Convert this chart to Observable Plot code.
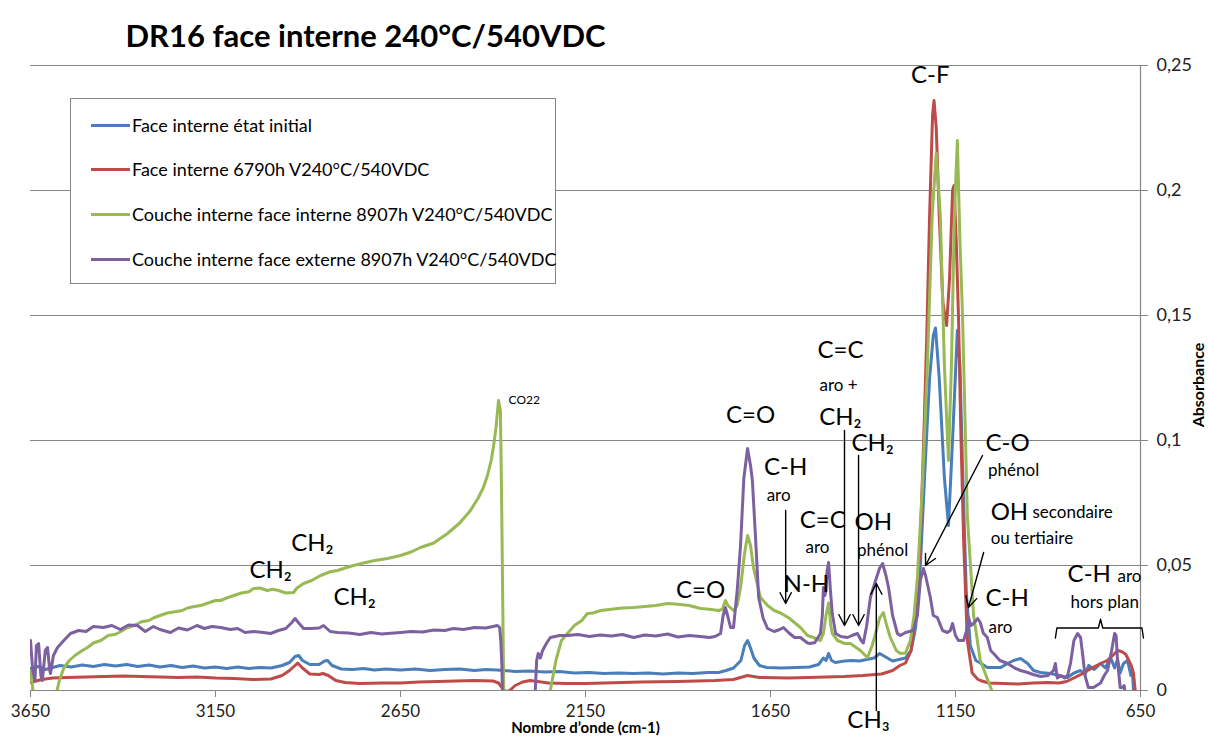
<!DOCTYPE html>
<html><head><meta charset="utf-8">
<script src="https://cdn.jsdelivr.net/npm/d3@7"></script>
<script src="https://cdn.jsdelivr.net/npm/@observablehq/plot@0.6"></script>
<style>
body{margin:0;background:#fff;}
#wrap{position:relative;width:1208px;height:738px;font-family:Lato,"Noto Sans",sans-serif;}
#legend{position:absolute;left:70px;top:98px;width:486px;height:186px;border:1px solid #868686;background:#fff;box-sizing:border-box;}
.item{position:absolute;left:20px;font-size:18px;color:#000;display:flex;align-items:center;height:22px;white-space:nowrap;}
.sw{width:39px;height:3px;margin-right:2px;}
</style></head><body><div id="wrap"><div id="chart"></div><div id="legend"></div></div>
<script>
// ---- data: [wavenumber cm-1, absorbance] ----
const initial = [[3650,0.0088],[3630,0.0096],[3610,0.0084],[3590,0.0092],[3570,0.0100],[3540,0.0094],[3510,0.0102],[3480,0.0096],[3450,0.0104],[3420,0.0098],[3390,0.0104],[3360,0.0096],[3330,0.0102],[3300,0.0094],[3270,0.0100],[3240,0.0092],[3210,0.0098],[3180,0.0090],[3150,0.0094],[3120,0.0088],[3090,0.0094],[3060,0.0088],[3030,0.0092],[3000,0.0090],[2970,0.0100],[2950,0.0112],[2935,0.0136],[2925,0.0140],[2915,0.0120],[2895,0.0104],[2870,0.0104],[2855,0.0118],[2847,0.0120],[2835,0.0100],[2810,0.0086],[2780,0.0084],[2750,0.0088],[2720,0.0082],[2690,0.0086],[2650,0.0082],[2610,0.0086],[2570,0.0080],[2530,0.0084],[2490,0.0086],[2450,0.0080],[2420,0.0084],[2390,0.0082],[2370,0.0080],[2340,0.0076],[2300,0.0078],[2260,0.0074],[2220,0.0076],[2180,0.0070],[2140,0.0072],[2100,0.0068],[2060,0.0070],[2020,0.0068],[1980,0.0070],[1940,0.0066],[1900,0.0070],[1860,0.0068],[1820,0.0072],[1790,0.0072],[1770,0.0080],[1750,0.0090],[1730,0.0120],[1720,0.0180],[1712,0.0200],[1704,0.0170],[1695,0.0130],[1680,0.0100],[1660,0.0092],[1620,0.0090],[1580,0.0092],[1545,0.0094],[1520,0.0104],[1507,0.0130],[1500,0.0120],[1493,0.0148],[1485,0.0120],[1475,0.0112],[1450,0.0118],[1430,0.0120],[1410,0.0118],[1390,0.0124],[1370,0.0130],[1355,0.0148],[1340,0.0135],[1320,0.0118],[1300,0.0125],[1285,0.0130],[1270,0.0160],[1258,0.0250],[1245,0.0500],[1232,0.0900],[1220,0.1250],[1210,0.1420],[1204,0.1450],[1194,0.1250],[1180,0.0850],[1169,0.0660],[1158,0.1000],[1145,0.1440],[1138,0.1300],[1131,0.0900],[1121,0.0400],[1110,0.0180],[1095,0.0120],[1083,0.0110],[1064,0.0092],[1047,0.0092],[1028,0.0092],[1009,0.0108],[993,0.0120],[974,0.0128],[955,0.0108],[939,0.0080],[920,0.0072],[893,0.0068],[870,0.0060],[847,0.0052],[830,0.0070],[812,0.0080],[800,0.0064],[790,0.0100],[775,0.0084],[758,0.0108],[745,0.0090],[731,0.0132],[720,0.0090],[712,0.0124],[705,0.0070],[696,0.0108],[685,0.0120],[676,0.0060],[672,0.0080],[669,0.0000]];

const aged6790 = [[3650,0.0032],[3620,0.0044],[3590,0.0050],[3550,0.0052],[3500,0.0054],[3450,0.0056],[3400,0.0058],[3350,0.0056],[3300,0.0054],[3250,0.0052],[3200,0.0054],[3150,0.0050],[3100,0.0048],[3050,0.0044],[3000,0.0046],[2970,0.0060],[2950,0.0080],[2935,0.0100],[2928,0.0110],[2915,0.0090],[2895,0.0066],[2870,0.0064],[2860,0.0068],[2845,0.0060],[2825,0.0040],[2800,0.0032],[2760,0.0028],[2700,0.0030],[2650,0.0030],[2600,0.0034],[2550,0.0036],[2500,0.0038],[2450,0.0040],[2400,0.0038],[2385,0.0030],[2375,0.0010],[2365,-0.0005],[2355,0.0000],[2340,0.0020],[2320,0.0034],[2300,0.0040],[2280,0.0036],[2250,0.0030],[2200,0.0028],[2150,0.0028],[2100,0.0030],[2000,0.0034],[1900,0.0036],[1800,0.0040],[1750,0.0044],[1712,0.0060],[1680,0.0052],[1600,0.0050],[1500,0.0054],[1450,0.0056],[1400,0.0060],[1350,0.0066],[1320,0.0080],[1300,0.0100],[1285,0.0110],[1270,0.0160],[1258,0.0300],[1245,0.0600],[1236,0.1000],[1228,0.1400],[1220,0.1900],[1212,0.2300],[1208,0.2360],[1202,0.2250],[1194,0.1900],[1184,0.1550],[1174,0.1460],[1166,0.1650],[1158,0.2000],[1154,0.2020],[1148,0.1800],[1142,0.1500],[1135,0.1000],[1128,0.0600],[1118,0.0200],[1105,0.0070],[1090,0.0045],[1083,0.0040],[1060,0.0030],[1020,0.0028],[980,0.0026],[940,0.0030],[900,0.0032],[870,0.0030],[850,0.0036],[830,0.0050],[810,0.0065],[793,0.0080],[775,0.0095],[758,0.0108],[740,0.0120],[725,0.0140],[712,0.0160],[700,0.0155],[690,0.0145],[685,0.0130],[675,0.0100],[669,0.0070],[665,0.0010],[662,-0.0030]];

const layerInner = [[3650,0.0080],[3645,0.0020],[3640,-0.0040],[3590,-0.0040],[3580,-0.0010],[3572,0.0040],[3560,0.0090],[3545,0.0120],[3530,0.0140],[3510,0.0160],[3496,0.0172],[3480,0.0190],[3460,0.0200],[3440,0.0220],[3420,0.0225],[3407,0.0235],[3390,0.0250],[3370,0.0260],[3350,0.0275],[3330,0.0280],[3318,0.0290],[3300,0.0300],[3280,0.0310],[3260,0.0315],[3240,0.0320],[3226,0.0330],[3210,0.0335],[3190,0.0340],[3170,0.0350],[3150,0.0360],[3136,0.0360],[3120,0.0370],[3100,0.0380],[3080,0.0390],[3060,0.0395],[3047,0.0408],[3030,0.0410],[3010,0.0400],[2995,0.0405],[2980,0.0400],[2960,0.0390],[2939,0.0392],[2930,0.0410],[2912,0.0428],[2890,0.0440],[2866,0.0460],[2840,0.0475],[2820,0.0480],[2800,0.0490],[2777,0.0500],[2750,0.0510],[2720,0.0520],[2685,0.0528],[2650,0.0540],[2620,0.0555],[2596,0.0572],[2560,0.0590],[2523,0.0628],[2490,0.0670],[2461,0.0720],[2440,0.0770],[2426,0.0812],[2415,0.0860],[2405,0.0920],[2399,0.0972],[2392,0.1050],[2385,0.1160],[2380,0.1120],[2377,0.0800],[2374,0.0400],[2371,0.0000],[2368,-0.0100],[2250,-0.0100],[2245,0.0000],[2230,0.0120],[2215,0.0200],[2199,0.0228],[2180,0.0260],[2160,0.0280],[2145,0.0308],[2130,0.0310],[2109,0.0320],[2080,0.0325],[2050,0.0330],[2020,0.0332],[1990,0.0336],[1960,0.0340],[1928,0.0348],[1900,0.0345],[1870,0.0340],[1839,0.0328],[1815,0.0325],[1790,0.0320],[1780,0.0325],[1772,0.0360],[1765,0.0340],[1750,0.0320],[1740,0.0340],[1731,0.0412],[1720,0.0550],[1712,0.0620],[1704,0.0580],[1696,0.0492],[1685,0.0420],[1677,0.0372],[1658,0.0340],[1640,0.0320],[1623,0.0310],[1600,0.0290],[1569,0.0252],[1550,0.0220],[1534,0.0212],[1515,0.0200],[1507,0.0228],[1500,0.0300],[1493,0.0350],[1487,0.0260],[1483,0.0228],[1469,0.0200],[1450,0.0188],[1434,0.0188],[1407,0.0160],[1388,0.0132],[1375,0.0180],[1366,0.0228],[1355,0.0290],[1345,0.0312],[1336,0.0260],[1326,0.0212],[1310,0.0160],[1299,0.0148],[1285,0.0150],[1272,0.0200],[1262,0.0300],[1253,0.0450],[1240,0.0800],[1226,0.1300],[1213,0.1900],[1202,0.2150],[1191,0.1900],[1180,0.1300],[1169,0.0920],[1161,0.1300],[1153,0.1900],[1145,0.2200],[1138,0.1800],[1131,0.1500],[1118,0.0700],[1101,0.0300],[1083,0.0120],[1055,0.0012],[1042,-0.0040],[1030,-0.0080]];

const layerOuter = [[3650,0.0200],[3644,0.0080],[3638,0.0040],[3634,0.0180],[3628,0.0188],[3622,0.0060],[3618,0.0040],[3610,0.0160],[3604,0.0172],[3598,0.0080],[3596,0.0068],[3588,0.0140],[3577,0.0172],[3560,0.0200],[3542,0.0228],[3520,0.0240],[3500,0.0236],[3480,0.0256],[3453,0.0252],[3430,0.0260],[3407,0.0244],[3385,0.0262],[3361,0.0260],[3340,0.0236],[3318,0.0256],[3300,0.0244],[3272,0.0232],[3250,0.0250],[3226,0.0242],[3200,0.0260],[3180,0.0248],[3160,0.0256],[3136,0.0252],[3110,0.0244],[3090,0.0248],[3070,0.0232],[3047,0.0236],[3020,0.0232],[3001,0.0228],[2980,0.0240],[2960,0.0248],[2945,0.0270],[2935,0.0288],[2925,0.0270],[2912,0.0248],[2893,0.0248],[2870,0.0250],[2858,0.0260],[2840,0.0236],[2820,0.0232],[2790,0.0230],[2760,0.0224],[2730,0.0232],[2700,0.0226],[2685,0.0228],[2650,0.0232],[2620,0.0236],[2590,0.0234],[2560,0.0242],[2530,0.0240],[2507,0.0248],[2480,0.0244],[2450,0.0252],[2420,0.0250],[2400,0.0256],[2388,0.0260],[2382,0.0252],[2379,0.0200],[2376,0.0100],[2374,-0.0040],[2290,-0.0040],[2287,-0.0040],[2282,0.0120],[2278,0.0148],[2272,0.0130],[2266,0.0160],[2255,0.0190],[2245,0.0212],[2220,0.0220],[2199,0.0220],[2170,0.0224],[2140,0.0216],[2110,0.0222],[2080,0.0218],[2050,0.0224],[2020,0.0212],[1990,0.0222],[1960,0.0218],[1928,0.0226],[1900,0.0214],[1870,0.0220],[1839,0.0216],[1815,0.0212],[1800,0.0216],[1785,0.0228],[1778,0.0300],[1772,0.0332],[1766,0.0300],[1758,0.0252],[1750,0.0252],[1740,0.0400],[1731,0.0580],[1722,0.0850],[1712,0.0968],[1704,0.0900],[1699,0.0840],[1690,0.0600],[1682,0.0372],[1670,0.0290],[1658,0.0248],[1640,0.0236],[1625,0.0244],[1615,0.0252],[1600,0.0230],[1585,0.0212],[1569,0.0212],[1550,0.0190],[1542,0.0188],[1530,0.0192],[1515,0.0228],[1510,0.0300],[1507,0.0412],[1503,0.0380],[1500,0.0400],[1497,0.0480],[1493,0.0512],[1488,0.0400],[1483,0.0308],[1474,0.0228],[1460,0.0216],[1442,0.0212],[1430,0.0220],[1415,0.0228],[1405,0.0200],[1399,0.0190],[1390,0.0260],[1380,0.0372],[1366,0.0440],[1355,0.0490],[1347,0.0508],[1338,0.0460],[1331,0.0412],[1320,0.0300],[1307,0.0228],[1299,0.0220],[1285,0.0232],[1264,0.0240],[1253,0.0300],[1245,0.0440],[1237,0.0488],[1231,0.0460],[1218,0.0372],[1210,0.0300],[1199,0.0292],[1185,0.0240],[1172,0.0232],[1164,0.0240],[1158,0.0268],[1150,0.0220],[1142,0.0200],[1128,0.0200],[1120,0.0240],[1115,0.0292],[1108,0.0260],[1101,0.0268],[1090,0.0288],[1083,0.0272],[1075,0.0230],[1064,0.0212],[1055,0.0160],[1047,0.0148],[1030,0.0120],[1009,0.0108],[990,0.0090],[974,0.0080],[955,0.0072],[940,0.0064],[920,0.0056],[900,0.0060],[885,0.0080],[880,0.0108],[875,0.0050],[866,0.0060],[855,0.0050],[847,0.0060],[839,0.0110],[830,0.0200],[820,0.0228],[812,0.0212],[806,0.0140],[800,0.0060],[791,0.0012],[777,0.0012],[758,0.0030],[748,0.0060],[739,0.0080],[728,0.0160],[720,0.0228],[716,0.0220],[712,0.0120],[705,0.0012],[699,0.0012],[694,0.0020],[690,-0.0040]];

const seriesNames = ["Face interne état initial","Face interne 6790h V240°C/540VDC","Couche interne face interne 8907h V240°C/540VDC","Couche interne face externe 8907h V240°C/540VDC"];
const seriesColors = ["#4A7EBB","#BE4B48","#98B954","#7D60A0"];
const seriesData = [initial, aged6790, layerInner, layerOuter];

const xTicks = [3650,3150,2650,2150,1650,1150,650];
const yTicks = [0,0.05,0.1,0.15,0.2,0.25];
const yTickLabels = ["0","0,05","0,1","0,15","0,2","0,25"];

const title = "DR16 face interne 240°C/540VDC";
const xLabel = "Nombre d’onde (cm-1)";
const yLabel = "Absorbance";

// annotations (data coordinates)
const bigCentered = [
  {t:"CH₂",wn:2888,a:0.0588},{t:"CH₂",wn:3001,a:0.048},{t:"CH₂",wn:2774,a:0.0372},
  {t:"C=O",wn:1704,a:0.110},{t:"C=O",wn:1839,a:0.040},{t:"C-H",wn:1609,a:0.0892},
  {t:"N-H",wn:1553,a:0.0424},{t:"C=C",wn:1509,a:0.068},{t:"C=C",wn:1461,a:0.136},
  {t:"CH₂",wn:1461,a:0.1092},{t:"CH₂",wn:1374,a:0.0988},{t:"OH",wn:1372,a:0.0672},
  {t:"CH₃",wn:1385,a:-0.012},{t:"C-F",wn:1218,a:0.246}
];
const bigStart = [
  {t:"C-O",wn:1069,a:0.0988},{t:"OH",wn:1055,a:0.0712},{t:"C-H",wn:1069,a:0.0368},{t:"C-H",wn:847,a:0.0464}
];
const smallCentered = [
  {t:"aro",wn:1628,a:0.078},{t:"aro",wn:1523,a:0.0572},{t:"aro +",wn:1466,a:0.122},{t:"phénol",wn:1347,a:0.056}
];
const smallStart = [
  {t:"phénol",wn:1062,a:0.088},{t:"secondaire",wn:942,a:0.071},{t:"ou tertiaire",wn:1055,a:0.0608},
  {t:"aro",wn:1061,a:0.0252},{t:"aro",wn:712,a:0.0456},{t:"hors plan",wn:839,a:0.0352}
];
const tinyStart = [{t:"CO22",wn:2358,a:0.116}];
const arrows = [
  {x1:1609,y1:0.072,x2:1609,y2:0.0348},
  {x1:1450,y1:0.104,x2:1450,y2:0.026},
  {x1:1412,y1:0.094,x2:1412,y2:0.026},
  {x1:1364,y1:-0.008,x2:1364,y2:0.0428},
  {x1:1077,y1:0.094,x2:1231,y2:0.050},
  {x1:1074,y1:0.0552,x2:1115,y2:0.0332}
];
const bracket = [[880,0.021],[876,0.0250],[764,0.0250],[758,0.0285],[752,0.0250],[646,0.0250],[642,0.021]];

// ---- chart ----
const rows = (arr) => arr.map(([wn,a]) => ({wn,a}));
const font = "Lato, 'Noto Sans', sans-serif";
const lineMarks = seriesData.map((d,i) => Plot.line(rows(d), {x:"wn", y:"a", stroke:seriesColors[i], strokeWidth:3, clip:true, curve:"linear"}));

const chart = Plot.plot({
  width:1208, height:738,
  marginTop:65, marginBottom:48, marginLeft:30, marginRight:68,
  style:{fontFamily:font, background:"#fff", color:"#000", overflow:"visible"},
  x:{domain:[3650,650]},
  y:{domain:[0,0.25]},
  marks:[
    Plot.ruleY(yTicks.slice(1), {stroke:"#868686", strokeWidth:1}),
    Plot.ruleY([0], {stroke:"#868686", strokeWidth:1.2}),
    Plot.ruleX([650], {stroke:"#868686", strokeWidth:1.2}),
    Plot.axisX({ticks:xTicks, tickSize:7, tickPadding:7, fontSize:17, stroke:"#868686", fill:"#222", label:null, tickFormat:d=>String(d)}),
    Plot.axisY({anchor:"right", ticks:yTicks, tickSize:7, tickPadding:9, fontSize:18, stroke:"#868686", fill:"#222", label:null, tickFormat:(d)=>yTickLabels[yTicks.indexOf(d)]}),
    ...lineMarks,
    Plot.arrow(arrows, {x1:"x1", y1:"y1", x2:"x2", y2:"y2", stroke:"#000", strokeWidth:1.4, headLength:13, headAngle:55}),
    Plot.line(bracket, {x:d=>d[0], y:d=>d[1], stroke:"#000", strokeWidth:1.4}),
    Plot.text(bigCentered, {x:"wn", y:"a", text:"t", fontSize:24, fill:"#000"}),
    Plot.text(bigStart, {x:"wn", y:"a", text:"t", fontSize:24, fill:"#000", textAnchor:"start"}),
    Plot.text(smallCentered, {x:"wn", y:"a", text:"t", fontSize:17, fill:"#000"}),
    Plot.text(smallStart, {x:"wn", y:"a", text:"t", fontSize:17, fill:"#000", textAnchor:"start"}),
    Plot.text(tinyStart, {x:"wn", y:"a", text:"t", fontSize:12, fill:"#000", textAnchor:"start"}),
    Plot.text([title], {text:d=>d, frameAnchor:"top-left", dx:95, dy:-28, textAnchor:"start", lineAnchor:"middle", fontSize:31, fontWeight:"bold", fill:"#000"}),
    Plot.text([xLabel], {text:d=>d, frameAnchor:"bottom", dy:38, textAnchor:"middle", lineAnchor:"middle", fontSize:15, fontWeight:"bold", fill:"#000"}),
    Plot.text([yLabel], {text:d=>d, frameAnchor:"right", dx:58, dy:7, textAnchor:"middle", lineAnchor:"middle", rotate:-90, fontSize:16, fontWeight:"bold", fill:"#000"})
  ]
});
document.getElementById("chart").appendChild(chart);

// legend
const legend = document.getElementById("legend");
const legendTops = [15, 59, 104, 149];
seriesNames.forEach((n,i) => {
  const it = document.createElement("div");
  it.className = "item";
  it.style.top = legendTops[i] + "px";
  const sw = document.createElement("span");
  sw.className = "sw"; sw.style.background = seriesColors[i];
  it.appendChild(sw);
  it.appendChild(document.createTextNode(n));
  legend.appendChild(it);
});
</script></body></html>
